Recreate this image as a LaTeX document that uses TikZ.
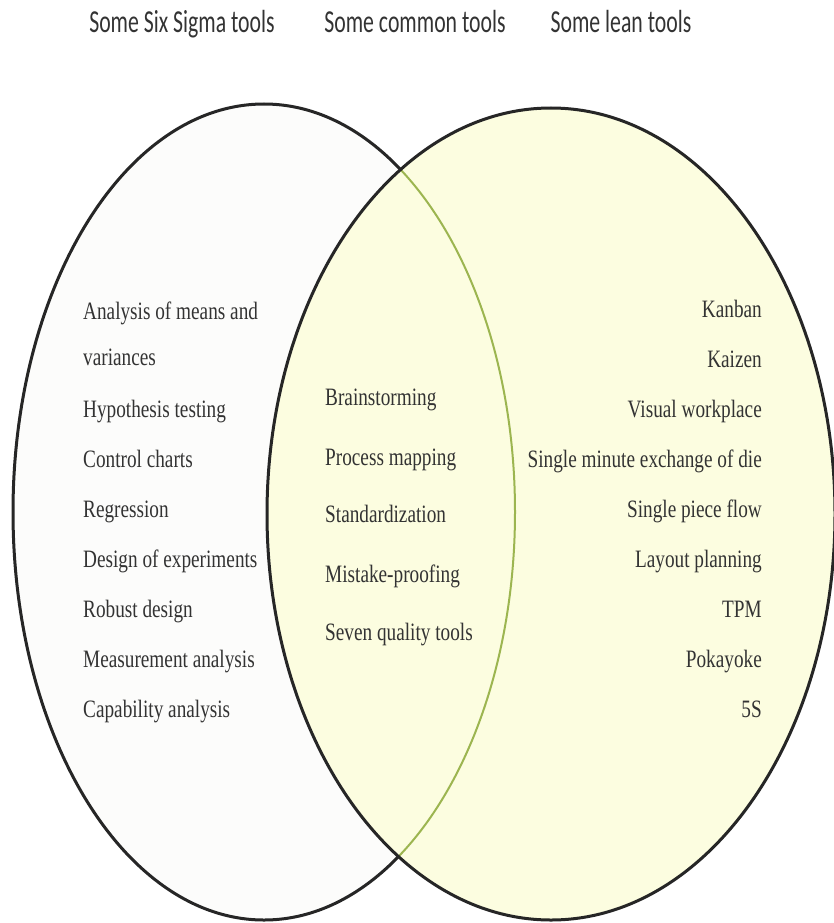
\documentclass[tikz,border=0pt]{standalone}
\usepackage{fontspec}
\usepackage{xcolor}
\newfontfamily\headfont[FakeStretch=0.68]{Carlito}
\newfontfamily\listfont[FakeStretch=0.77]{Liberation Serif}
\definecolor{sigmafill}{HTML}{FCFCFB}
\definecolor{leanfill}{HTML}{FCFDE0}
\definecolor{overlapline}{HTML}{9CB550}
\definecolor{inktext}{HTML}{333333}
\tikzset{
	head/.style = {anchor = base, inner sep = 0pt, text = inktext, font = \headfont\fontsize{32}{32}\selectfont},
	sigmaitem/.style = {anchor = base west, inner sep = 0pt, text = inktext, font = \listfont\fontsize{25}{25}\selectfont},
	commonitem/.style = {anchor = base west, inner sep = 0pt, text = inktext, font = \listfont\fontsize{25}{25}\selectfont},
	leanitem/.style = {anchor = base east, inner sep = 0pt, text = inktext, font = \listfont\fontsize{25}{25}\selectfont}
}
\begin{document}
\begin{tikzpicture}[x = 1pt, y = -1pt]
	\useasboundingbox (0, 0) rectangle (834, 923);
	\fill[white] (0, 0) rectangle (834, 923);
	\fill[sigmafill] (264, 512) ellipse [x radius = 251, y radius = 408];
	\draw[line width = 3pt, black!85] (264, 512) ellipse [x radius = 251, y radius = 408];
	\fill[leanfill] (551, 514) ellipse [x radius = 284, y radius = 406];
	\begin{scope}
		\clip (551, 514) ellipse [x radius = 284, y radius = 406];
		\draw[line width = 2pt, overlapline] (264, 512) ellipse [x radius = 251, y radius = 408];
	\end{scope}
	\draw[line width = 3pt, black!85] (551, 514) ellipse [x radius = 284, y radius = 406];
	\node[head] (sigmahead)  at (182, 33) {Some Six Sigma tools};
	\node[head] (commonhead) at (415, 33) {Some common tools};
	\node[head] (leanhead)   at (621, 33) {Some lean tools};
	\node[sigmaitem] (anova)       at (83, 319) {Analysis of means and};
	\node[sigmaitem] (variances)   at (83, 365) {variances};
	\node[sigmaitem] (hypothesis)  at (83, 417) {Hypothesis testing};
	\node[sigmaitem] (control)     at (83, 467) {Control charts};
	\node[sigmaitem] (regression)  at (83, 517) {Regression};
	\node[sigmaitem] (doe)         at (83, 567) {Design of experiments};
	\node[sigmaitem] (robust)      at (83, 617) {Robust design};
	\node[sigmaitem] (measurement) at (83, 667) {Measurement analysis};
	\node[sigmaitem] (capability)  at (83, 717) {Capability analysis};
	\node[commonitem] (brainstorm)  at (325, 405) {Brainstorming};
	\node[commonitem] (mapping)     at (325, 465) {Process mapping};
	\node[commonitem] (standard)    at (325, 522) {Standardization};
	\node[commonitem] (mistake)     at (325, 582) {Mistake-proofing};
	\node[commonitem] (seven)       at (325, 640) {Seven quality tools};
	\node[leanitem] (kanban)   at (762, 317) {Kanban};
	\node[leanitem] (kaizen)   at (762, 367) {Kaizen};
	\node[leanitem] (visual)   at (762, 417) {Visual workplace};
	\node[leanitem] (smed)     at (762, 467) {Single minute exchange of die};
	\node[leanitem] (piece)    at (762, 517) {Single piece flow};
	\node[leanitem] (layout)   at (762, 567) {Layout planning};
	\node[leanitem] (tpm)      at (762, 617) {TPM};
	\node[leanitem] (pokayoke) at (762, 667) {Pokayoke};
	\node[leanitem] (fives)    at (762, 717) {5S};
\end{tikzpicture}
\end{document}
